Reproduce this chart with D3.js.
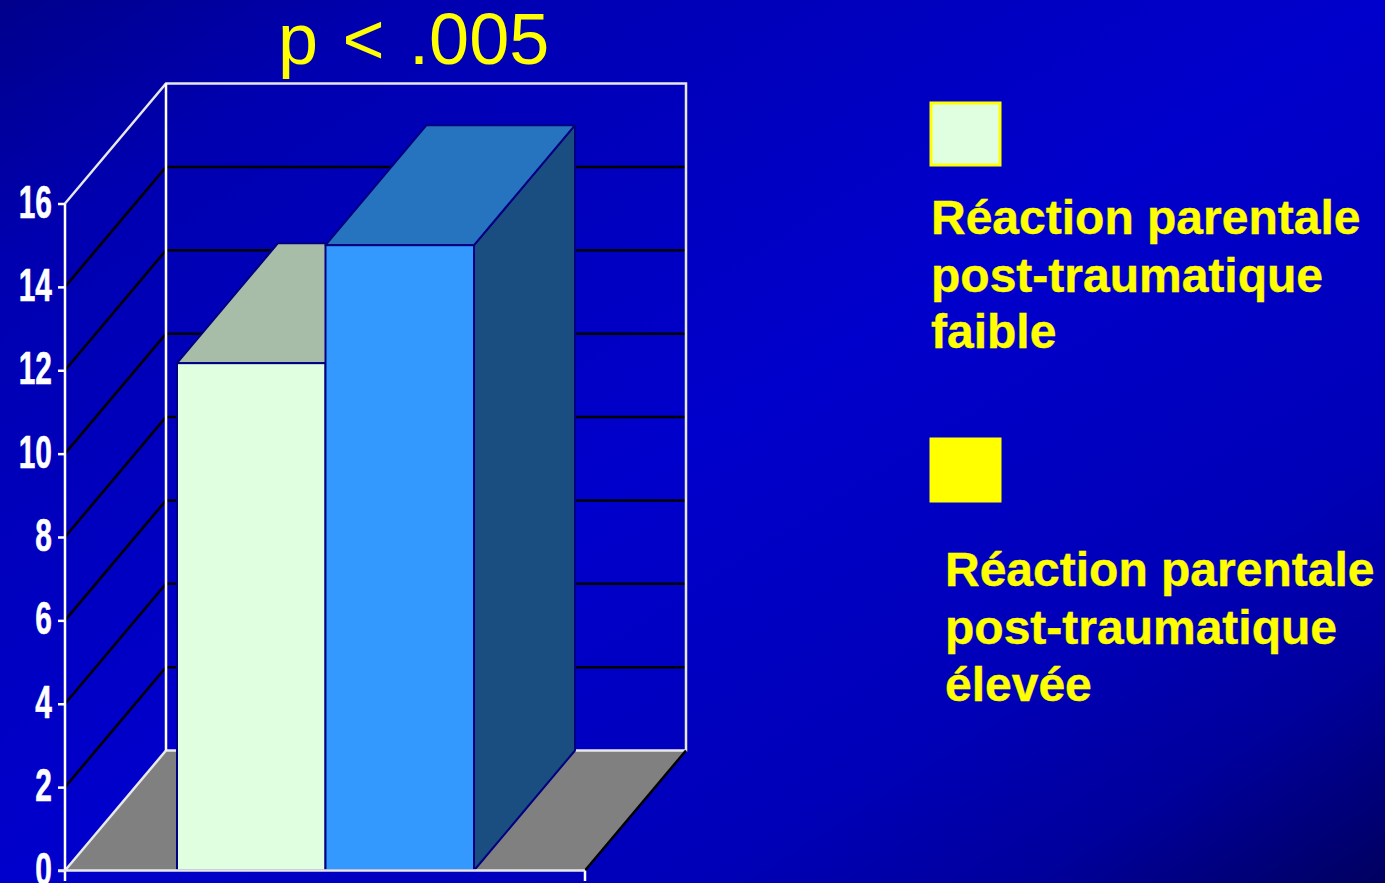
<!DOCTYPE html>
<html>
<head>
<meta charset="utf-8">
<script src="https://cdn.jsdelivr.net/npm/d3@7"></script>
<style>
  html, body { margin: 0; padding: 0; background: #0000c8; overflow: hidden; }
  svg { display: block; }
  text { font-family: "Liberation Sans", Arial, sans-serif; }
</style>
</head>
<body>
<svg id="chart" width="1385" height="883"></svg>
<script>
// values
const series = ["faible", "élevée"];
const values = [12.17, 15];
const tick_values = [0, 2, 4, 6, 8, 10, 12, 14, 16];
const title_text = "p < .005";
const legend_low = ["Réaction parentale", "post-traumatique", "faible"];
const legend_high = ["Réaction parentale", "post-traumatique", "élevée"];

const front_colors = ["#e0ffe0", "#3399ff"];
const top_colors = ["#a8bda8", "#2673bf"];
const side_color = "#1a4d80";
const edge_color = "#000080";

const svg = d3.select("#chart");

// depth of the 3d box
const dx = 101, dy = -120;

const y = d3.scaleLinear().domain([0, 16]).range([870.5, 203.5]);
const x = d3.scaleBand().domain(series).range([177, 474]);
const x_left = 65, x_right = 585;

const defs = svg.append("defs");
const grad = defs.append("linearGradient")
    .attr("id", "bg")
    .attr("x1", 0).attr("y1", 0)
    .attr("x2", 1).attr("y2", 1);
grad.append("stop").attr("offset", "0").attr("stop-color", "#00008c");
grad.append("stop").attr("offset", "0.15").attr("stop-color", "#0000b0");
grad.append("stop").attr("offset", "0.5").attr("stop-color", "#0000cc");
grad.append("stop").attr("offset", "0.75").attr("stop-color", "#0000b8");
grad.append("stop").attr("offset", "0.87").attr("stop-color", "#00009c");
grad.append("stop").attr("offset", "1").attr("stop-color", "#000060");

svg.append("rect").attr("width", 1385).attr("height", 883).attr("fill", "url(#bg)");

const line = d3.line();
const wall_w = 2.5;

// floor
svg.append("path")
    .attr("d", line([[x_left, y(0)], [x_left + dx, y(0) + dy], [x_right + dx, y(0) + dy], [x_right, y(0)]]) + "Z")
    .attr("fill", "#808080");

// grid lines, side wall and back wall
svg.append("g").selectAll("path")
    .data(tick_values.filter(d => d > 0 && d < 16))
    .enter()
    .append("path")
    .attr("d", d => line([[x_left, y(d)], [x_left + dx, y(d) + dy], [x_right + dx, y(d) + dy]]))
    .attr("fill", "none")
    .attr("stroke", "#000")
    .attr("stroke-width", 2.5);

// walls
svg.append("path")
    .attr("d", line([[x_left, y(16)], [x_left + dx, y(16) + dy], [x_right + dx, y(16) + dy], [x_right + dx, y(0) + dy], [x_left + dx, y(0) + dy], [x_left, y(0)]]))
    .attr("fill", "none").attr("stroke", "#e8e8e8").attr("stroke-width", wall_w);
svg.append("path")
    .attr("d", line([[x_left + dx, y(16) + dy], [x_left + dx, y(0) + dy]]))
    .attr("stroke", "#fff").attr("stroke-width", wall_w);
svg.append("path")
    .attr("d", line([[x_right, y(0)], [x_right + dx, y(0) + dy]]))
    .attr("stroke", "#000").attr("stroke-width", wall_w);

// axis
const axis = d3.axisLeft(y).tickValues(tick_values).tickSize(7).tickFormat("");
const axis_g = svg.append("g").attr("transform", `translate(${x_left},0)`).call(axis);
axis_g.select(".domain").remove();
axis_g.selectAll("line").attr("stroke", "#fff").attr("stroke-width", wall_w);

svg.append("path").attr("d", line([[x_left, y(16)], [x_left, 881]])).attr("stroke", "#fff").attr("stroke-width", wall_w);
svg.append("path").attr("d", line([[x_right, y(0)], [x_right, 881]])).attr("stroke", "#fff").attr("stroke-width", wall_w);

// tick labels, squeezed like the original narrow font
svg.append("g").selectAll("text")
    .data(tick_values)
    .enter()
    .append("text")
    .attr("transform", d => `translate(52,${y(d) + 14}) scale(0.65,1)`)
    .attr("text-anchor", "end")
    .attr("font-size", 46)
    .attr("font-weight", "bold")
    .attr("fill", "#fff")
    .attr("stroke", "#fff")
    .attr("stroke-width", 0.6)
    .text(d => d);

// bars
const bars = svg.append("g").selectAll("g")
    .data(series)
    .enter()
    .append("g");

bars.append("path")
    .attr("d", (d, i) => {
      const x1 = x(d) + x.bandwidth();
      return line([[x1, y(values[i])], [x1 + dx, y(values[i]) + dy], [x1 + dx, y(0) + dy], [x1, y(0)]]) + "Z";
    })
    .attr("fill", side_color)
    .attr("stroke", edge_color)
    .attr("stroke-width", 2)
    .attr("stroke-linejoin", "round")
    .style("display", (d, i) => i == 0 ? "none" : null);

bars.append("path")
    .attr("d", (d, i) => {
      const x0 = x(d), x1 = x0 + x.bandwidth();
      return line([[x0, y(values[i])], [x0 + dx, y(values[i]) + dy], [x1 + dx, y(values[i]) + dy], [x1, y(values[i])]]) + "Z";
    })
    .attr("fill", (d, i) => top_colors[i])
    .attr("stroke", edge_color)
    .attr("stroke-width", 2)
    .attr("stroke-linejoin", "round");

// second bar has to sit over the first bar's top
bars.append("rect")
    .attr("x", d => x(d))
    .attr("y", (d, i) => y(values[i]))
    .attr("width", x.bandwidth())
    .attr("height", (d, i) => y(0) - y(values[i]))
    .attr("fill", (d, i) => front_colors[i])
    .attr("stroke", edge_color)
    .attr("stroke-width", 2);

// redraw base line over the bar bottoms
svg.append("path").attr("d", line([[x_left - 7, y(0)], [x_right, y(0)]])).attr("stroke", "#e8e8e8").attr("stroke-width", wall_w);

// title
svg.append("text")
    .attr("x", 278)
    .attr("y", 64)
    .attr("font-size", 72)
    .attr("word-spacing", 4.5)
    .attr("fill", "#ffff00")
    .text(title_text);

// legend
function add_legend(box_y, fill, text_x, base_ys, lines) {
  svg.append("rect")
      .attr("x", 931).attr("y", box_y)
      .attr("width", 69).attr("height", 62)
      .attr("fill", fill)
      .attr("stroke", "#ffff00")
      .attr("stroke-width", 3);
  svg.append("g").selectAll("text")
      .data(lines)
      .enter()
      .append("text")
      .attr("x", text_x)
      .attr("y", (d, i) => base_ys[i])
      .attr("font-size", 48)
      .attr("font-weight", "bold")
      .attr("fill", "#ffff00")
      .attr("stroke", "#ffff00")
      .attr("stroke-width", 0.4)
      .text(d => d);
}
add_legend(103, front_colors[0], 931, [234, 292, 348], legend_low);
add_legend(439, "#ffff00", 945, [586, 644, 701], legend_high);
</script>
</body>
</html>
